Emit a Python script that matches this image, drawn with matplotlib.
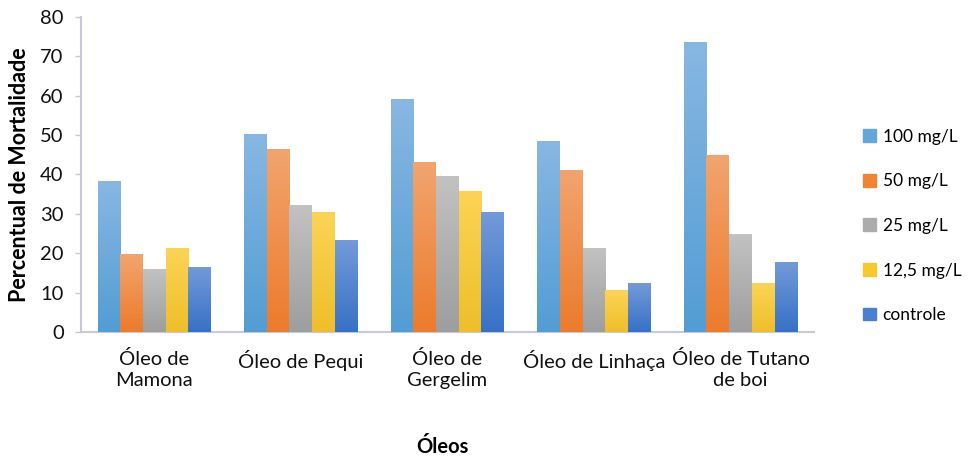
import matplotlib.pyplot as plt
import matplotlib.colors as mcolors
import numpy as np

plt.rcParams['font.family'] = ['Lato', 'DejaVu Sans']

categories = ["Óleo de\nMamona", "Óleo de Pequi", "Óleo de\nGergelim",
              "Óleo de Linhaça", "Óleo de Tutano\nde boi"]
series = ["100 mg/L", "50 mg/L", "25 mg/L", "12,5 mg/L", "controle"]
v100 = [38.3, 50.3, 59.1, 48.4, 73.6]
v50 = [19.8, 46.5, 43.1, 41.2, 44.9]
v25 = [15.9, 32.3, 39.7, 21.3, 25.0]
v12 = [21.3, 30.5, 35.8, 10.6, 12.4]
vctrl = [16.6, 23.3, 30.5, 12.4, 17.8]
values = [v100, v50, v25, v12, vctrl]

# (top colour, bottom colour) for the Excel-like gradient fill
grad = [("#88b7e2", "#529dd4"),
        ("#f2a46f", "#ec7b2c"),
        ("#c2c2c2", "#9e9e9e"),
        ("#fcd455", "#eebf2a"),
        ("#739ad9", "#3771c6")]
legend_cols = ["#62a7dc", "#ef8434", "#acacac", "#f8c92f", "#4a80cf"]

fig = plt.figure(figsize=(9.68, 4.61), dpi=100)
ax = fig.add_axes([0.0837, 0.280, 0.757, 0.683])

x = np.arange(len(categories))
w = 0.155
handles = []
for i, (vals, (ctop, cbot)) in enumerate(zip(values, grad)):
    pos = x + (i - 2) * w
    bars = ax.bar(pos, vals, width=w, color=legend_cols[i], label=series[i],
                  linewidth=0, zorder=2)
    cmap = mcolors.LinearSegmentedColormap.from_list("g%d" % i, [cbot, ctop])
    for b in bars:
        x0, y0 = b.get_x(), b.get_y()
        bw, bh = b.get_width(), b.get_height()
        b.set_facecolor("none")
        im = ax.imshow(np.linspace(0, 1, 100).reshape(-1, 1), cmap=cmap,
                       origin="lower", aspect="auto",
                       extent=[x0, x0 + bw, y0, y0 + bh], zorder=3)
        im.set_clip_path(b)
    handles.append(plt.Rectangle((0, 0), 1, 1, color=legend_cols[i]))

ax.set_xlim(-0.5, len(categories) - 0.5)
ax.set_ylim(0, 80)
ax.set_yticks(range(0, 81, 10))
ax.set_xticks(x)
ax.set_xticklabels(categories, fontsize=14.5, color="#111111", linespacing=1.3)
ax.tick_params(axis="x", length=0, pad=13)
ax.tick_params(axis="y", length=4.5, width=1, color="#c8c8d8", labelsize=14.5,
               labelcolor="#111111", pad=8)

for side in ["top", "right"]:
    ax.spines[side].set_visible(False)
for side in ["left", "bottom"]:
    ax.spines[side].set_color("#c8c8dc")
    ax.spines[side].set_linewidth(1.5)

fig.text(20 / 968, 0.620, "Percentual de Mortalidade", fontsize=15.5,
         fontweight="bold", rotation=90, ha="center", va="center")
fig.text(0.457, 0.03, "Óleos", fontsize=14.5, fontweight="bold",
         ha="center", va="center")

fig.legend(handles, series, loc="center left", bbox_to_anchor=(0.875, 0.51),
           frameon=False, fontsize=12.5, handlelength=0.75, handleheight=0.75,
           handletextpad=0.4, labelspacing=1.65)

fig.savefig("out.png", dpi=100)
